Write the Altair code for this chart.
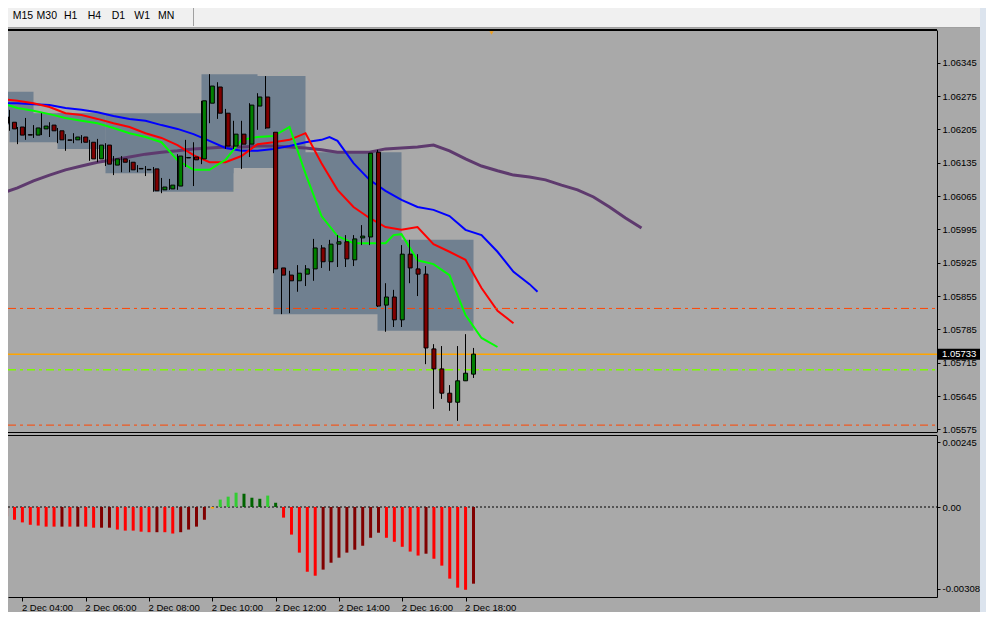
import altair as alt
import pandas as pd

# ---------------- data ----------------
# M15 candles, index 0 = 2 Dec 03:30 (one bar every 15 minutes)
OPEN = [1.06231, 1.06220, 1.06210, 1.06194, 1.06193, 1.06206, 1.06214, 1.06202, 1.06183, 1.06183,
        1.06189, 1.06178, 1.06143, 1.06172, 1.06130, 1.06143, 1.06136, 1.06123, 1.06121, 1.06122,
        1.06078, 1.06080, 1.06086, 1.06145, 1.06147, 1.06143, 1.06260, 1.06294, 1.06239, 1.06170,
        1.06195, 1.06174, 1.06254, 1.06273, 1.06199, 1.05914, 1.05899, 1.05887, 1.05901, 1.05912,
        1.05956, 1.05927, 1.05964, 1.05969, 1.05931, 1.05977, 1.05979, 1.06157, 1.05836, 1.05853,
        1.05805, 1.05943, 1.05912, 1.05901, 1.05744, 1.05702, 1.05651, 1.05632, 1.05677, 1.05691]
HIGH = [1.06246, 1.06246, 1.06210, 1.06229, 1.06214, 1.06239, 1.06220, 1.06208, 1.06195, 1.06197,
        1.06193, 1.06183, 1.06185, 1.06176, 1.06149, 1.06149, 1.06141, 1.06130, 1.06128, 1.06126,
        1.06103, 1.06101, 1.06153, 1.06183, 1.06178, 1.06265, 1.06321, 1.06304, 1.06248, 1.06223,
        1.06223, 1.06260, 1.06281, 1.06317, 1.06199, 1.05914, 1.05908, 1.05920, 1.05920, 1.05975,
        1.05962, 1.05973, 1.05983, 1.05983, 1.05983, 1.06004, 1.06155, 1.06162, 1.05882, 1.05868,
        1.05962, 1.05973, 1.05943, 1.05918, 1.05754, 1.05750, 1.05668, 1.05750, 1.05775, 1.05746]
LOW = [1.06208, 1.06202, 1.06174, 1.06183, 1.06187, 1.06193, 1.06189, 1.06176, 1.06160, 1.06176,
       1.06176, 1.06139, 1.06136, 1.06128, 1.06109, 1.06115, 1.06115, 1.06115, 1.06107, 1.06074,
       1.06071, 1.06078, 1.06078, 1.06126, 1.06086, 1.06132, 1.06218, 1.06227, 1.06164, 1.06164,
       1.06122, 1.06147, 1.06204, 1.06206, 1.05903, 1.05817, 1.05819, 1.05864, 1.05876, 1.05887,
       1.05914, 1.05908, 1.05916, 1.05916, 1.05918, 1.05962, 1.05962, 1.05832, 1.05780, 1.05790,
       1.05790, 1.05882, 1.05855, 1.05712, 1.05618, 1.05639, 1.05614, 1.05593, 1.05677, 1.05683]
CLOSE = [1.06218, 1.06206, 1.06193, 1.06193, 1.06208, 1.06212, 1.06202, 1.06183, 1.06182, 1.06189,
         1.06178, 1.06143, 1.06172, 1.06132, 1.06143, 1.06136, 1.06120, 1.06122, 1.06120, 1.06076,
         1.06084, 1.06088, 1.06149, 1.06146, 1.06141, 1.06265, 1.06296, 1.06239, 1.06170, 1.06195,
         1.06174, 1.06256, 1.06273, 1.06208, 1.05912, 1.05899, 1.05887, 1.05903, 1.05912, 1.05956,
         1.05927, 1.05964, 1.05969, 1.05933, 1.05975, 1.05981, 1.06155, 1.05834, 1.05853, 1.05805,
         1.05943, 1.05914, 1.05901, 1.05746, 1.05702, 1.05651, 1.05632, 1.05677, 1.05693, 1.05733]

# moving averages (shifted forward, they run past the last candle)
PURPLE_IDX = [0, 2, 4, 6, 8, 10, 12, 14, 16, 18, 20, 22, 24, 26, 28, 30, 32, 34, 36, 38, 40,
              42, 44, 46, 48, 50, 52, 54, 56, 58, 60, 62, 64, 66, 68, 70, 72, 74, 76, 78, 80]
PURPLE_VAL = [1.06071, 1.06082, 1.06097, 1.06109, 1.06120, 1.06128, 1.06136, 1.06141, 1.06147, 1.06153,
              1.06157, 1.06160, 1.06164, 1.06166, 1.06168, 1.06168, 1.06170, 1.06170, 1.06168, 1.06166,
              1.06162, 1.06157, 1.06157, 1.06157, 1.06164, 1.06166, 1.06168, 1.06172, 1.06160, 1.06143,
              1.06128, 1.06118, 1.06109, 1.06105, 1.06099, 1.06088, 1.06078, 1.06063, 1.06042, 1.06019,
              1.05998]
BLUE_IDX = [0, 2, 4, 6, 8, 10, 12, 14, 16, 18, 20, 22, 24, 26, 28, 30, 32, 34, 36, 38, 40, 41,
            42, 44, 46, 48, 50, 52, 54, 56, 58, 60, 62, 64, 66, 67]
BLUE_VAL = [1.06260, 1.06260, 1.06258, 1.06256, 1.06250, 1.06246, 1.06241, 1.06233, 1.06227, 1.06223,
            1.06214, 1.06206, 1.06195, 1.06181, 1.06166, 1.06160, 1.06160, 1.06164, 1.06170, 1.06178,
            1.06183, 1.06189, 1.06181, 1.06134, 1.06099, 1.06076, 1.06057, 1.06042, 1.06036, 1.06023,
            1.05994, 1.05983, 1.05948, 1.05906, 1.05880, 1.05864]
RED_IDX = [0, 2, 4, 6, 8, 10, 12, 14, 16, 18, 20, 22, 24, 26, 28, 30, 32, 34, 36, 38, 40,
           42, 44, 46, 48, 50, 52, 54, 56, 58, 60, 62, 64]
RED_VAL = [1.06269, 1.06265, 1.06260, 1.06252, 1.06239, 1.06235, 1.06227, 1.06218, 1.06210, 1.06197,
           1.06187, 1.06172, 1.06151, 1.06136, 1.06136, 1.06149, 1.06174, 1.06178, 1.06183, 1.06197,
           1.06134, 1.06078, 1.06042, 1.06019, 1.06000, 1.05994, 1.06000, 1.05964, 1.05948, 1.05931,
           1.05872, 1.05824, 1.05798]
GREEN_IDX = [0, 2, 4, 6, 8, 10, 12, 14, 16, 18, 20, 22, 24, 26, 28, 30, 32, 34, 36, 38, 40,
             42, 44, 46, 48, 49, 50, 52, 54, 56, 58, 60, 62]
GREEN_VAL = [1.06260, 1.06250, 1.06244, 1.06237, 1.06229, 1.06223, 1.06218, 1.06208, 1.06197, 1.06189,
             1.06178, 1.06140, 1.06120, 1.06120, 1.06141, 1.06183, 1.06189, 1.06191, 1.06210, 1.06112,
             1.06023, 1.05981, 1.05966, 1.05966, 1.05966, 1.05983, 1.05985, 1.05930, 1.05922, 1.05899,
             1.05815, 1.05767, 1.05748]

# oscillator histogram, one value per candle
HIST = [-0.00035, -0.00048, -0.00058, -0.00067, -0.00070, -0.00074, -0.00074, -0.00074, -0.00074, -0.00074,
        -0.00074, -0.00078, -0.00078, -0.00078, -0.00085, -0.00089, -0.00089, -0.00093, -0.00095, -0.00095,
        -0.00095, -0.00100, -0.00095, -0.00085, -0.00074, -0.00048, -0.00006, 0.00028, 0.00039, 0.00054,
        0.00050, 0.00035, 0.00031, 0.00043, 0.00016, -0.00040, -0.00104, -0.00172, -0.00244, -0.00259,
        -0.00236, -0.00210, -0.00191, -0.00172, -0.00161, -0.00146, -0.00116, -0.00097, -0.00116, -0.00131,
        -0.00150, -0.00168, -0.00183, -0.00176, -0.00195, -0.00221, -0.00270, -0.00304, -0.00312, -0.00289]
HIST_STATE = ["fall", "fall", "fall", "fall", "fall", "fall", "fall", "rise", "fall", "rise",
              "fall", "fall", "rise", "rise", "fall", "fall", "fall", "fall", "fall", "rise",
              "fall", "fall", "rise", "rise", "rise", "rise", "flat", "grow", "grow", "grow",
              "shrink", "shrink", "shrink", "grow", "shrink", "fall", "fall", "fall", "fall", "fall",
              "rise", "rise", "rise", "rise", "rise", "rise", "rise", "rise", "fall", "fall",
              "fall", "fall", "fall", "rise", "fall", "fall", "fall", "fall", "fall", "rise"]

# slate range boxes (start bar, end bar, top price, bottom price)
BOX_START = [-1, 1, 7, 13, 19, 25, 29, 34, 47]
BOX_END = [4, 13, 13, 29, 29, 32, 38, 50, 59]
BOX_TOP = [1.06284, 1.06239, 1.06239, 1.06239, 1.06183, 1.06321, 1.06317, 1.06157, 1.05973]
BOX_BOTTOM = [1.06214, 1.06178, 1.06164, 1.06113, 1.06074, 1.06124, 1.06124, 1.05817, 1.05782]

# horizontal levels
LEVEL_CURRENT = 1.05733
LEVEL_GREEN = 1.05700
LEVEL_RED = [1.05829, 1.05584]
MARKER_IDX = [61.25]

PRICE_TICKS = [1.06345, 1.06275, 1.06205, 1.06135, 1.06065, 1.05995,
               1.05925, 1.05855, 1.05785, 1.05715, 1.05645, 1.05575]
OSC_TICKS = [0.00245, 0.0, -0.003089]
OSC_TICK_LABELS = ["0.00245", "0.00", "-0.003089"]
TIME_TICKS = [2, 10, 18, 26, 34, 42, 50, 58]
TIME_LABELS = ["2 Dec 04:00", "2 Dec 06:00", "2 Dec 08:00", "2 Dec 10:00",
               "2 Dec 12:00", "2 Dec 14:00", "2 Dec 16:00", "2 Dec 18:00"]
TIMEFRAMES = ["M15", "M30", "H1", "H4", "D1", "W1", "MN"]

# ---------------- layout ----------------
W, H = 929, 589
FONT = "Liberation Sans"
FS = 9.5

XS = alt.Scale(domain=[0.8125, 0.8125 + W / 8], range=[0, W], nice=False, zero=False)
PS = alt.Scale(domain=[1.055695, 1.064137], range=[424, 22], nice=False, zero=False)
OS = alt.Scale(domain=[-0.003392, 0.002714], range=[589, 427], nice=False, zero=False)

one = pd.DataFrame({"a": [0]})


def xq(field):
    return alt.X(field, scale=XS, axis=None)


def yp(field):
    return alt.Y(field, scale=PS, axis=None)


candles = pd.DataFrame({"idx": list(range(len(OPEN))), "open": OPEN, "high": HIGH,
                        "low": LOW, "close": CLOSE})
candles["dir"] = ["up" if c > o else "down" for o, c in zip(OPEN, CLOSE)]

osc = pd.DataFrame({"idx": list(range(len(HIST))), "v": HIST, "state": HIST_STATE})
boxes = pd.DataFrame({"x0": BOX_START, "x1": BOX_END, "top": BOX_TOP, "bot": BOX_BOTTOM})

# toolbar
toolbar_bg = alt.Chart(one).mark_rect(color="#F0F0F0").encode(
    x=alt.value(0), x2=alt.value(978), y=alt.value(0), y2=alt.value(19))
toolbar_line = alt.Chart(one).mark_rule(color="#A0A0A0", strokeWidth=1).encode(
    x=alt.value(0), x2=alt.value(978), y=alt.value(19.5))
toolbar_sep = alt.Chart(one).mark_rule(color="#A0A0A0", strokeWidth=1).encode(
    x=alt.value(185.5), y=alt.value(0), y2=alt.value(18))
toolbar_text = alt.Chart(pd.DataFrame({"tf": TIMEFRAMES})).mark_text(
    font=FONT, fontSize=10.5, color="#000000", baseline="middle").encode(
    x=alt.X("tf:N", scale=alt.Scale(type="point", domain=TIMEFRAMES, range=[3, 170]), axis=None),
    y=alt.value(7.5), text="tf:N")

box_layer = alt.Chart(boxes).mark_rect(color="#708090", clip=True).encode(
    x=xq("x0:Q"), x2="x1:Q", y=yp("top:Q"), y2="bot:Q")


def ma_layer(idx, vals, color, width):
    df = pd.DataFrame({"idx": idx, "v": vals})
    return alt.Chart(df).mark_line(color=color, strokeWidth=width, clip=True).encode(
        x=xq("idx:Q"), y=yp("v:Q"), order="idx:Q")


def level(prices, color, width, dash=None):
    kw = dict(color=color, strokeWidth=width, clip=True)
    if dash:
        kw["strokeDash"] = dash
    return alt.Chart(pd.DataFrame({"p": prices})).mark_rule(**kw).encode(
        x=alt.value(0), x2=alt.value(W), y=yp("p:Q"))


wicks = alt.Chart(candles).mark_rule(color="black", strokeWidth=1, clip=True).encode(
    x=xq("idx:Q"), y=yp("low:Q"), y2="high:Q")

bodies = alt.Chart(candles).mark_bar(width=4, stroke="black", strokeWidth=1, clip=True).encode(
    x=xq("idx:Q"),
    y=alt.Y("open:Q", scale=PS,
            axis=alt.Axis(orient="right", values=PRICE_TICKS, format=".5f", title=None,
                          tickSize=3, labelPadding=2, labelOverlap=False, labelFlush=False,
                          grid=False)),
    y2="close:Q",
    color=alt.Color("dir:N", scale=alt.Scale(domain=["up", "down"], range=["#008000", "#800000"]),
                    legend=None))

time_expr = "[" + ",".join("'%s'" % s for s in TIME_LABELS) + "][indexof([" + \
    ",".join(str(v) for v in TIME_TICKS) + "], datum.value)]"
osc_expr = "[" + ",".join("'%s'" % s for s in OSC_TICK_LABELS) + "][indexof([" + \
    ",".join(repr(v) for v in OSC_TICKS) + "], datum.value)]"

hist = alt.Chart(osc).mark_bar(width=3, clip=True).encode(
    x=alt.X("idx:Q", scale=XS,
            axis=alt.Axis(orient="bottom", values=TIME_TICKS, labelExpr=time_expr, title=None,
                          labelAlign="left", labelBaseline="top", labelFlush=False,
                          labelOverlap=False, tickSize=4, labelPadding=1, labelOffset=-1,
                          grid=False)),
    y=alt.Y("v:Q", scale=OS,
            axis=alt.Axis(orient="right", values=OSC_TICKS, labelExpr=osc_expr, title=None,
                          tickSize=3, labelPadding=2, labelOverlap=False, labelFlush=False,
                          grid=False)),
    y2=alt.datum(0),
    color=alt.Color("state:N",
                    scale=alt.Scale(domain=["fall", "rise", "grow", "shrink", "flat"],
                                    range=["#FF0000", "#800000", "#32CD32", "#006400", "#FFA500"]),
                    legend=None))

zero_line = alt.Chart(pd.DataFrame({"v": [0.0]})).mark_rule(
    color="black", strokeWidth=1, strokeDash=[2, 2]).encode(
    x=alt.value(0), x2=alt.value(W), y=alt.Y("v:Q", scale=OS, axis=None))

frame_top = alt.Chart(one).mark_rule(color="black", strokeWidth=2).encode(
    x=alt.value(0), x2=alt.value(W), y=alt.value(22))
frame_mid1 = alt.Chart(one).mark_rule(color="black", strokeWidth=1).encode(
    x=alt.value(0), x2=alt.value(W), y=alt.value(424.5))
frame_mid2 = alt.Chart(one).mark_rule(color="black", strokeWidth=1).encode(
    x=alt.value(0), x2=alt.value(W), y=alt.value(427.5))

cur = pd.DataFrame({"p": [LEVEL_CURRENT]})
cur_box = alt.Chart(cur).mark_rule(color="black", strokeWidth=11).encode(
    x=alt.value(930), x2=alt.value(975), y=yp("p:Q"))
cur_text = alt.Chart(cur).mark_text(color="white", align="left", baseline="middle",
                                    font=FONT, fontSize=FS).encode(
    x=alt.value(934), y=yp("p:Q"), text=alt.Text("p:Q", format=".5f"))

marker = alt.Chart(pd.DataFrame({"idx": MARKER_IDX})).mark_point(
    shape="triangle-down", filled=True, size=18, color="#F0A020", opacity=1).encode(
    x=xq("idx:Q"), y=alt.value(25))

strip = alt.Chart(one).mark_rect(color="#DCE4EE").encode(
    x=alt.value(972), x2=alt.value(978), y=alt.value(0), y2=alt.value(604))

chart = alt.layer(
    toolbar_bg, toolbar_line, toolbar_sep, toolbar_text,
    box_layer,
    ma_layer(PURPLE_IDX, PURPLE_VAL, "#5E3A6E", 3),
    ma_layer(BLUE_IDX, BLUE_VAL, "#0000FF", 2),
    ma_layer(RED_IDX, RED_VAL, "#FF0000", 2),
    ma_layer(GREEN_IDX, GREEN_VAL, "#00FF00", 2),
    level(LEVEL_RED, "#FF4500", 1, [8, 4, 3, 4]),
    level([LEVEL_GREEN], "#7CFC00", 1.5, [8, 4, 3, 4]),
    level([LEVEL_CURRENT], "#FFA500", 1.5),
    wicks, bodies,
    zero_line, hist,
    frame_top, frame_mid1, frame_mid2,
    cur_box, cur_text, marker, strip,
).resolve_scale(
    x="independent", y="independent", color="independent"
).properties(
    width=W, height=H, background="#A9A9A9",
    autosize=alt.AutoSizeParams(type="none"),
    padding={"left": 0, "top": 0, "right": 49, "bottom": 15},
).configure_view(stroke=None).configure_axis(
    labelFont=FONT, labelFontSize=FS, labelColor="black", domainColor="black",
    tickColor="black", domainWidth=1, tickWidth=1
)

chart.save("out.html", embed_options={"renderer": "svg", "actions": False})
